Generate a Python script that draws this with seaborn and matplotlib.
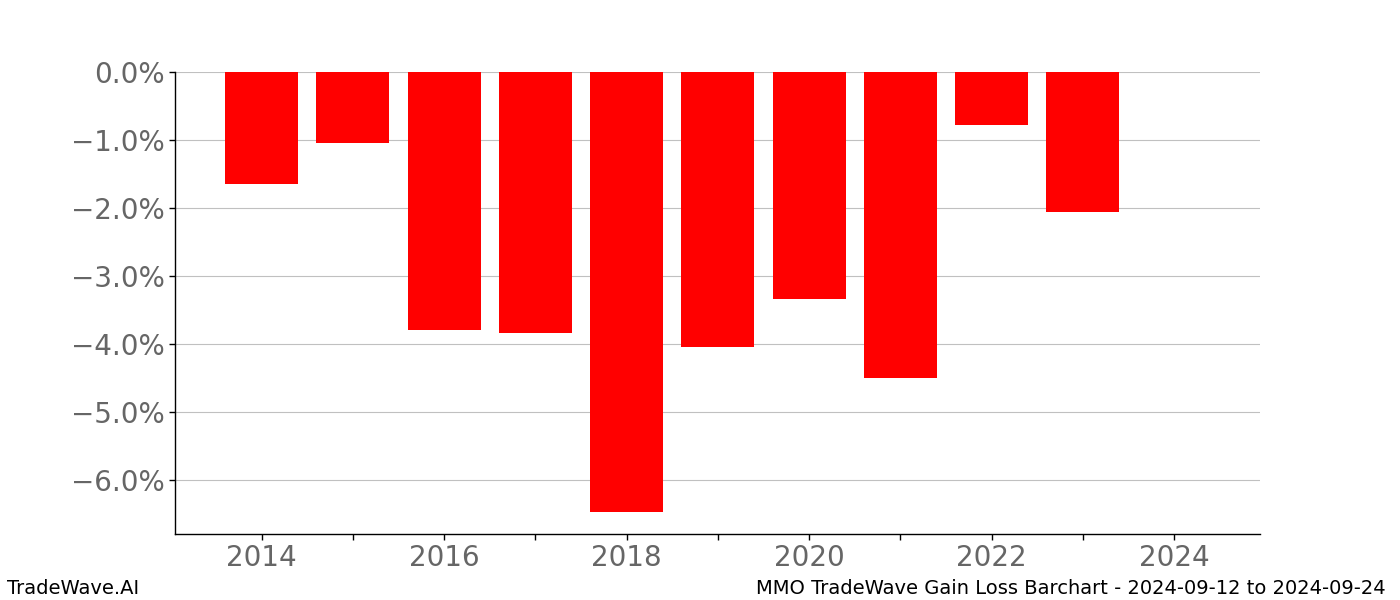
import matplotlib
matplotlib.use("Agg")
import matplotlib.pyplot as plt
import seaborn as sns
import numpy as np
from matplotlib.ticker import PercentFormatter

years = [2014, 2015, 2016, 2017, 2018, 2019, 2020, 2021, 2022, 2023]
values = [-1.65, -1.04, -3.79, -3.84, -6.47, -4.04, -3.34, -4.50, -0.78, -2.06]
tick_years = list(range(2014, 2025))
tick_labels = [str(y) if y % 2 == 0 else "" for y in tick_years]
footer_left = "TradeWave.AI"
footer_right = "MMO TradeWave Gain Loss Barchart - 2024-09-12 to 2024-09-24"

sns.set_style("white")
plt.rcParams['font.family'] = ['DejaVu Sans']

fig, ax = plt.subplots(figsize=(14, 6), dpi=100)
fig.subplots_adjust(left=0.125, right=0.9, top=0.88, bottom=0.11)

sns.barplot(x=years, y=values, native_scale=True, width=0.8, color="red",
            saturation=1, linewidth=0, edgecolor="none", ax=ax, zorder=2)

ax.set_xlim(2013.05, 2024.94)
ax.set_ylim(min(values) * 1.05, 0)
ax.set_xticks(tick_years)
ax.set_xticklabels(tick_labels)
ax.yaxis.set_major_formatter(PercentFormatter(xmax=100, decimals=1))
ax.set_yticks(np.arange(0, -7, -1.0))

ax.grid(axis="y", color="#c0c0c0", linewidth=0.8)
ax.grid(axis="x", visible=False)
ax.set_axisbelow(True)

for s in ["top", "right"]:
    ax.spines[s].set_visible(False)
for s in ["left", "bottom"]:
    ax.spines[s].set_color("black")
    ax.spines[s].set_linewidth(1.0)

ax.tick_params(axis="both", which="major", labelsize=20, labelcolor="#666666",
               length=4, width=1, color="black", bottom=True, left=True)

fig.text(0.005, 0.004, footer_left, fontsize=14, ha="left", va="bottom", color="black")
fig.text(0.99, 0.004, footer_right, fontsize=14, ha="right", va="bottom", color="black")

fig.savefig("out.png", dpi=100)
